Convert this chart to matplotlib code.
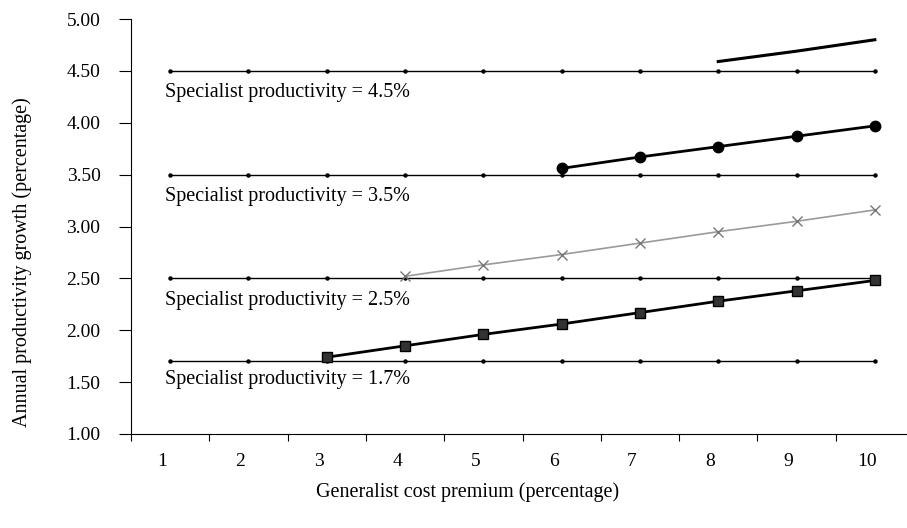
import matplotlib
matplotlib.use('Agg')
import matplotlib.pyplot as plt
import matplotlib.transforms as mtransforms
import numpy as np

premium = [1, 2, 3, 4, 5, 6, 7, 8, 9, 10]
specialist_levels = [4.5, 3.5, 2.5, 1.7]
specialist_labels = ['Specialist productivity = 4.5%', 'Specialist productivity = 3.5%',
                     'Specialist productivity = 2.5%', 'Specialist productivity = 1.7%']

gen_45_x = [8, 9, 10]
gen_45_y = [4.59, 4.69, 4.80]
gen_35_x = [6, 7, 8, 9, 10]
gen_35_y = [3.56, 3.67, 3.77, 3.87, 3.97]
gen_25_x = [4, 5, 6, 7, 8, 9, 10]
gen_25_y = [2.52, 2.63, 2.73, 2.84, 2.95, 3.05, 3.16]
gen_17_x = [3, 4, 5, 6, 7, 8, 9, 10]
gen_17_y = [1.74, 1.85, 1.96, 2.06, 2.17, 2.28, 2.38, 2.48]

plt.rcParams['font.family'] = ['Liberation Serif', 'DejaVu Serif']

fig = plt.figure(figsize=(9.07, 5.28), dpi=100)
ax = fig.add_axes([131 / 907, 1 - 434 / 528, 783 / 907, 415 / 528])

# label gap below each line (the 1.7% label sits a bit closer)
label_gap = [0.21, 0.21, 0.21, 0.17]
for lvl, lab, gap in zip(specialist_levels, specialist_labels, label_gap):
    ax.plot(premium, [lvl] * len(premium), color='black', lw=1.0,
            marker='o', ms=2.2)
    ax.text(0.93, lvl - gap, lab, fontsize=14.5, va='center', ha='left')

ax.plot(gen_45_x, gen_45_y, color='black', lw=2.2)
ax.plot(gen_35_x, gen_35_y, color='black', lw=2.0, marker='o', ms=7.5)
ax.plot(gen_25_x, gen_25_y, color='#9a9a9a', lw=1.2, marker='x', ms=7,
        mec='#777777')
ax.plot(gen_17_x, gen_17_y, color='black', lw=2.0, marker='s', ms=7,
        mfc='#333333')

ax.set_xlim(0.5, 10.5)
ax.set_ylim(1.0, 5.0)
ax.set_yticks(np.arange(1.0, 5.01, 0.5))
ax.set_yticklabels(['%.2f' % v for v in np.arange(1.0, 5.01, 0.5)], fontsize=14)
ax.set_xticks(np.arange(0.5, 10.6, 1.0))
ax.set_xticklabels([])
ax.set_xticks(premium, minor=True)
ax.set_xticklabels([str(p) for p in premium], minor=True, fontsize=14)
ax.tick_params(axis='x', which='minor', length=0, pad=14)
ax.tick_params(axis='x', which='major', length=5, direction='out', width=0.8)
ax.tick_params(axis='y', length=9, direction='out', width=0.8, pad=13)

# category labels sit a little left of the point positions
shift = mtransforms.ScaledTranslation(-8 / 100, 0, fig.dpi_scale_trans)
for lbl in ax.xaxis.get_minorticklabels():
    lbl.set_transform(lbl.get_transform() + shift)

ax.spines['top'].set_visible(False)
ax.spines['right'].set_visible(False)

fig.text(22 / 907, 1 - 262 / 528, 'Annual productivity growth (percentage)',
         fontsize=14.5, rotation=90, ha='center', va='center')
fig.text(468 / 907, 1 - 492 / 528, 'Generalist cost premium (percentage)',
         fontsize=14.5, ha='center', va='center')

plt.savefig('out.png', dpi=100)
